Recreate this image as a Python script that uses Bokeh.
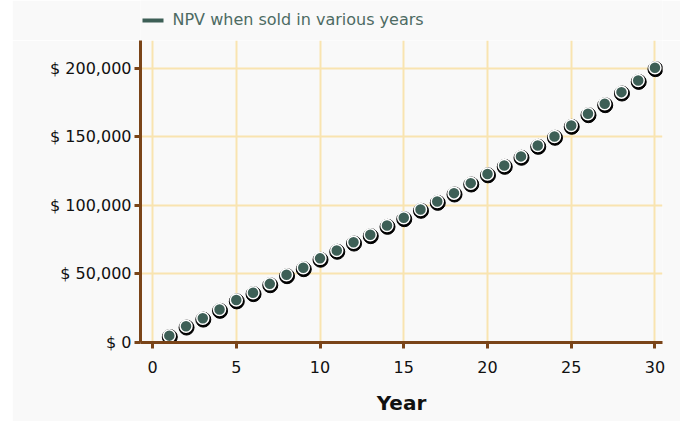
from bokeh.plotting import figure
from bokeh.models import (ColumnDataSource, Range1d, FixedTicker, Label, BoxAnnotation, Spacer)
from bokeh.layouts import row, column
from bokeh.transform import dodge
from bokeh.embed import file_html
from bokeh.resources import INLINE

years = list(range(1, 31))
npv = [5000, 11900, 17700, 24100, 31000, 36300, 42800, 49400, 54500, 61400,
       67200, 73200, 78600, 85400, 91000, 97100, 102900, 109000, 116300, 123000,
       129200, 135800, 143800, 150400, 158400, 166900, 174200, 182700, 191200, 200500]
series_name = "NPV when sold in various years"
x_ticks = [0, 5, 10, 15, 20, 25, 30]
y_ticks = [0, 50000, 100000, 150000, 200000]
y_tick_labels = ["$ 0", "$ 50,000", "$ 100,000", "$ 150,000", "$ 200,000"]
x_label = "Year"

BG = "#f9f9f9"
AXIS = "#7a4418"
GRID = "#f9e4b0"
MARK = "#3d5f56"
FONT = "DejaVu Sans"

W = 668
p = figure(width=W, height=381, output_backend="svg", toolbar_location=None,
           x_range=Range1d(-0.72, 30.45), y_range=Range1d(0, 220400),
           min_border_left=128, min_border_right=18, min_border_top=0, min_border_bottom=79)
p.background_fill_color = BG
p.border_fill_color = BG
p.outline_line_color = None

src = ColumnDataSource(dict(x=years, y=npv))

# shadow, halo, and core of the markers
p.scatter(dodge("x", 0.03, range=p.x_range), dodge("y", -1000, range=p.y_range), source=src,
          size=15, fill_color="black", line_color="black")
p.scatter("x", "y", source=src, size=12, fill_color=MARK, line_color="white", line_width=1.5)

p.xaxis.ticker = FixedTicker(ticks=x_ticks)
p.yaxis.ticker = FixedTicker(ticks=y_ticks)
p.yaxis.major_label_overrides = {t: l for t, l in zip(y_ticks, y_tick_labels)}
p.xaxis.axis_label = x_label

for ax in (p.xaxis, p.yaxis):
    ax.axis_line_color = AXIS
    ax.axis_line_width = 3
    ax.major_tick_line_color = AXIS
    ax.major_tick_line_width = 3
    ax.major_tick_in = 0
    ax.major_tick_out = 6
    ax.minor_tick_line_color = None
    ax.major_label_text_font = FONT
    ax.major_label_text_font_size = "16px"
    ax.major_label_text_color = "#111111"

p.xaxis.major_label_standoff = 12
p.yaxis.major_label_standoff = 3
p.xaxis.axis_label_text_font = FONT
p.xaxis.axis_label_text_font_style = "bold"
p.xaxis.axis_label_text_font_size = "20px"
p.xaxis.axis_label_text_color = "#111111"
p.xaxis.axis_label_standoff = 15

p.xgrid.ticker = FixedTicker(ticks=x_ticks)
p.ygrid.ticker = FixedTicker(ticks=y_ticks)
p.grid.grid_line_color = GRID
p.grid.grid_line_width = 2

# legend strip above the plot (its frame is aligned with the main plot's frame)
lf = figure(width=W, height=40, output_backend="svg", toolbar_location=None,
            x_range=Range1d(0, 1), y_range=Range1d(0, 1),
            min_border_left=0, min_border_right=0, min_border_top=0, min_border_bottom=0)
lf.axis.visible = False
lf.grid.visible = False
lf.outline_line_color = None
lf.background_fill_color = BG
lf.border_fill_color = BG
lf.add_layout(BoxAnnotation(left=2, right=23, bottom=18, top=22,
                            left_units="screen", right_units="screen",
                            bottom_units="screen", top_units="screen",
                            fill_color=MARK, fill_alpha=1, line_color=None))
lf.add_layout(Label(x=32, y=21.5, x_units="screen", y_units="screen", text=series_name,
                    text_font=FONT, text_font_size="16px", text_color="#4d6b63",
                    text_baseline="middle", text_align="left"))

layout = row(Spacer(width=12, height=421), column(lf, p, spacing=0), spacing=0)
open("out.html", "w").write(file_html(layout, INLINE))
